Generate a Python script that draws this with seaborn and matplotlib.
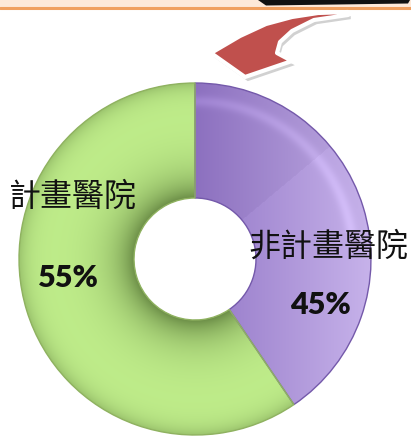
import numpy as np
import matplotlib
matplotlib.use("Agg")
import matplotlib.pyplot as plt
import seaborn as sns
from matplotlib.patches import Rectangle, Polygon
import matplotlib.patheffects as pe

# ---- data ----
categories = ["非計畫醫院", "計畫醫院"]
pct_labels = ["45%", "55%"]
slice_sizes = [40.5, 59.5]          # angular share as drawn in the picture
slice_colors = ["#b49de0", "#b8e684"]

sns.set_theme(style="white")
plt.rcParams["font.family"] = ["Noto Sans CJK TC", "DejaVu Sans"]

W, H = 411, 437
fig = plt.figure(figsize=(W / 100, H / 100), dpi=100)
ax = fig.add_axes([0, 0, 1, 1])

cx, cy, R, r_in = 195.0, 259.0, 176.0, 61.0

wedges, _ = ax.pie(slice_sizes, colors=slice_colors, center=(cx, cy), radius=R,
                   startangle=-90, counterclock=True, frame=True,
                   wedgeprops=dict(width=R - r_in, linewidth=1.0))
ax.set_xlim(0, W)
ax.set_ylim(H, 0)
ax.set_aspect("auto")
ax.axis("off")
wedges[0].set_edgecolor("#7459aa")
wedges[1].set_edgecolor("#8fb260")

# gradient fills
x0, y0 = int(cx - R) - 2, int(cy - R) - 2
n = int(2 * R) + 5
xs = np.arange(n) + x0 + 0.5
ys = np.arange(n) + y0 + 0.5
X, Y = np.meshgrid(xs, ys)
D = np.hypot(X - cx, Y - cy)
t = np.clip((D - r_in) / (R - r_in), 0, 1)
ang = np.degrees(np.arctan2(-(Y - cy), X - cx))

# green
light = np.array([0.76, 0.94, 0.55])
dark = np.array([0.25, 0.36, 0.14])
s = 0.66 * np.exp(-t / 0.2) + 0.30 * np.exp(-(1 - t) / 0.09)
s = np.clip(s, 0, 1)[..., None]
green = light * (1 - s) + dark * s
gimg = np.dstack([green, np.ones(X.shape)])
im = ax.imshow(gimg, extent=(x0, x0 + n, y0 + n, y0), origin="upper",
               interpolation="bilinear", zorder=1.5)
im.set_clip_path(wedges[1])

# purple
pl = np.array([0.58, 0.47, 0.78])
pr = np.array([0.78, 0.70, 0.92])
u = np.clip((X - cx) / R, 0, 1)[..., None]
purple = pl * (1 - u) + pr * u
ring = (np.exp(-((t - 0.84) / 0.05) ** 2) * (ang > 10))[..., None] * 0.07
upper = ((ang > 40) & (ang < 90))[..., None] * (-0.03)
purple = np.clip(purple + ring + upper, 0, 1)
pimg = np.dstack([purple, np.ones(X.shape)])
im2 = ax.imshow(pimg, extent=(x0, x0 + n, y0 + n, y0), origin="upper",
                interpolation="bilinear", zorder=1.5)
im2.set_clip_path(wedges[0])
for w in wedges:
    w.set_zorder(2)
    w.set_facecolor("none")

# header band
ax.add_patch(Rectangle((0, 0), W, 7.5, facecolor="#fde9d9", edgecolor="none", zorder=3))
ax.plot([0, W], [8, 8], color="#f0a060", lw=2.2, zorder=3)
ax.add_patch(Polygon([(258, 0), (410, 0), (408, 3.5), (266, 5.5)], closed=True,
                     facecolor="#111111", edgecolor="none", zorder=3))

# curved arrow (decoration)
arrow_outline = [(348, 12), (318, 13), (292, 17), (266, 24), (240, 36), (211, 53),
                 (245, 77), (292, 61), (277, 53),
                 (280, 42), (292, 31), (314, 20), (348, 15)]
arr = Polygon(arrow_outline, closed=True, facecolor="#c0504d", edgecolor="white",
              lw=3, joinstyle="round", zorder=4)
arr.set_path_effects([pe.SimplePatchShadow(offset=(2, -3), shadow_rgbFace="#999999",
                                           alpha=0.45), pe.Normal()])
ax.add_patch(arr)

# labels
ax.text(73, 197, categories[1], fontsize=23, ha="center", va="center", color="#111111", zorder=5)
ax.text(328, 247, categories[0], fontsize=23, ha="center", va="center", color="#111111", zorder=5)
ax.text(68, 278, pct_labels[1], fontsize=22, fontweight="heavy", family="Lato",
        ha="center", va="center", color="#111111", zorder=5)
ax.text(320, 305, pct_labels[0], fontsize=22, fontweight="heavy", family="Lato",
        ha="center", va="center", color="#111111", zorder=5)

fig.savefig("out.png", dpi=100)
